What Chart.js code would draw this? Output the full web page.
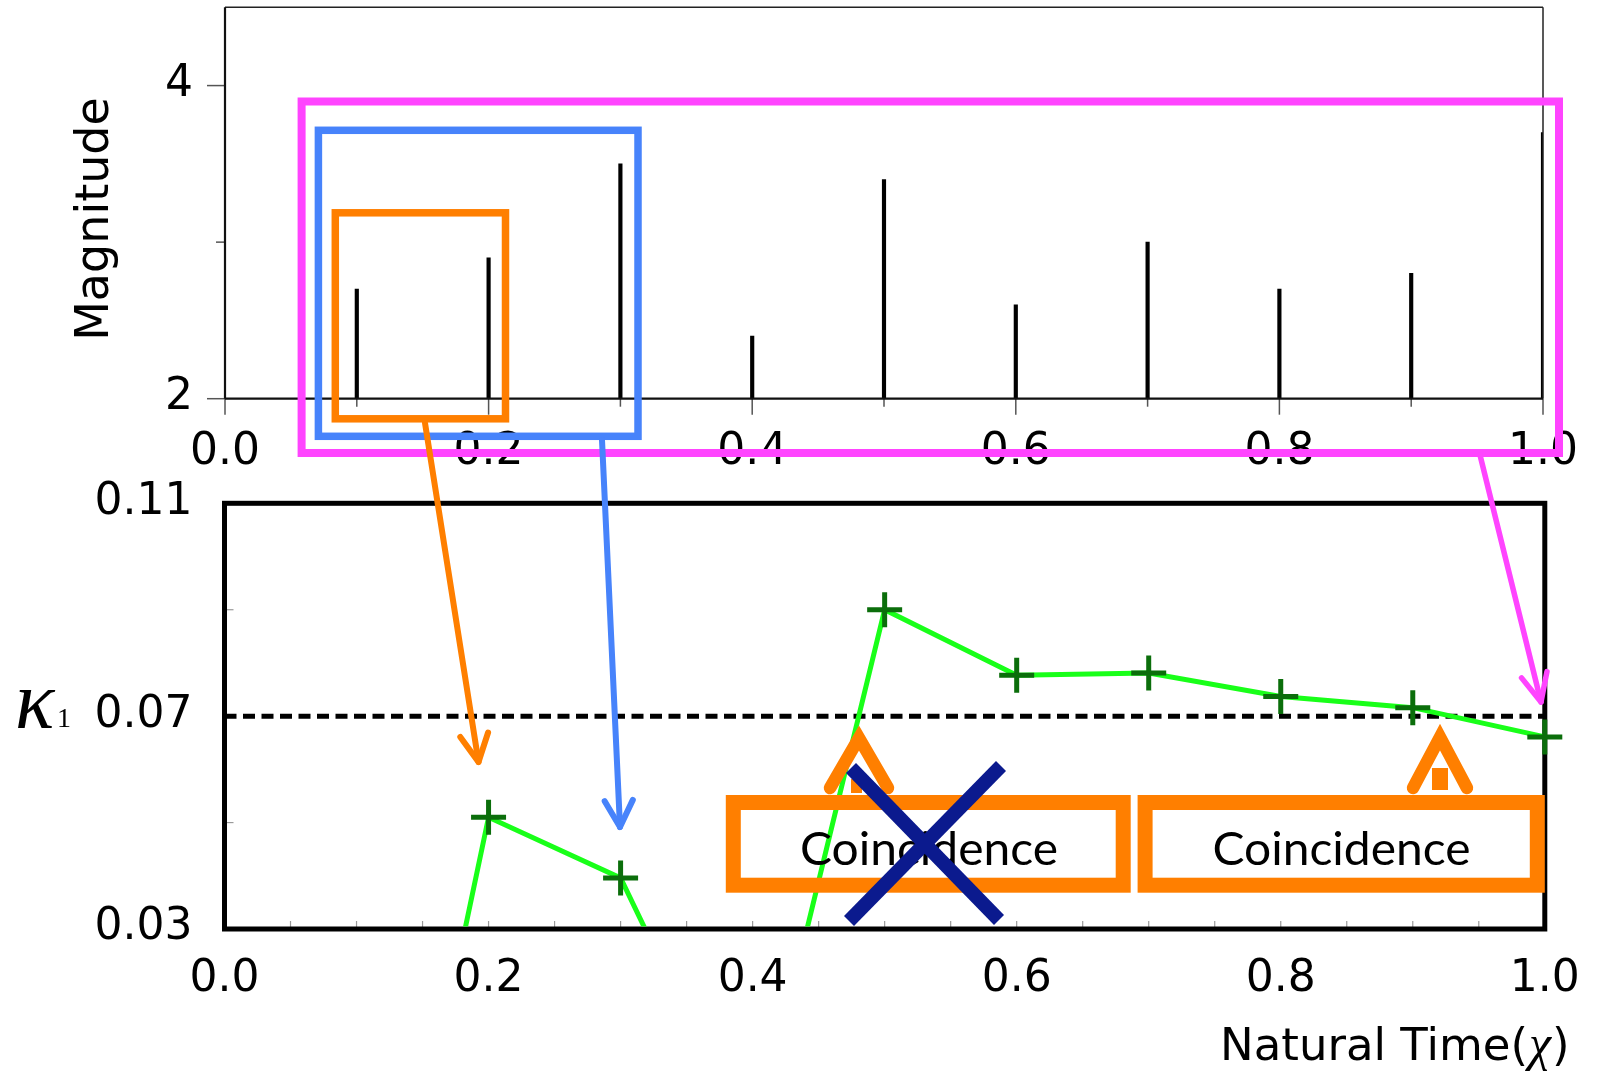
<!DOCTYPE html>
<html>
<head>
<meta charset="utf-8">
<script src="https://cdn.jsdelivr.net/npm/chart.js@4.4.1/dist/chart.umd.min.js"></script>
<style>
  html, body { margin: 0; padding: 0; background: #fff; overflow: hidden; }
  #wrap { position: relative; width: 1598px; height: 1073px; }
  #wrap canvas { position: absolute; left: 0; top: 0; }
</style>
</head>
<body>
<div id="wrap">
  <canvas id="magChart" width="1598" height="1073"></canvas>
  <canvas id="kappaChart" width="1598" height="1073"></canvas>
</div>
<script>
// ---- data -------------------------------------------------------------
// natural time of each event
const chi = [0.1, 0.2, 0.3, 0.4, 0.5, 0.6, 0.7, 0.8, 0.9, 1.0];
// magnitude of each event
const magnitude = [2.7, 2.9, 3.5, 2.4, 3.4, 2.6, 3.0, 2.7, 2.8, 3.7];
// variance kappa_1 after each event
const kappa1 = [-0.067, 0.051, 0.0396, -0.012, 0.090, 0.0777, 0.0781, 0.0737, 0.0716, 0.0661];
// critical value of kappa_1
const kappaCritical = 0.07;

// ---- ticks ------------------------------------------------------------
const magTicks = [2, 3, 4];
const magTickLabels = ['2', '', '4'];
const chiTicksTop = [0, 0.1, 0.2, 0.3, 0.4, 0.5, 0.6, 0.7, 0.8, 0.9, 1.0];
const chiLabelsTop = ['0.0', '', '0.2', '', '0.4', '', '0.6', '', '0.8', '', '1.0'];
const kappaTicks = [0.03, 0.05, 0.07, 0.09, 0.11];
const kappaTickLabels = ['0.03', '', '0.07', '', '0.11'];
const chiTicksBottom = [0, 0.05, 0.1, 0.15, 0.2, 0.25, 0.3, 0.35, 0.4, 0.45, 0.5,
                        0.55, 0.6, 0.65, 0.7, 0.75, 0.8, 0.85, 0.9, 0.95, 1.0];
const chiLabelsBottom = ['0.0', '', '', '', '0.2', '', '', '', '0.4', '', '', '', '0.6',
                         '', '', '', '0.8', '', '', '', '1.0'];

// ---- texts ------------------------------------------------------------
const magTitle = 'Magnitude';
const chiTitle = ['Natural Time(', 'χ', ')'];
const kappaTitle = ['κ', '1'];
const boxText = 'Coincidence';

Chart.defaults.font.family = "'DejaVu Sans', sans-serif";
Chart.defaults.color = '#000';

const W = 1598, H = 1073;
const SANS = "'DejaVu Sans', sans-serif";
const SERIF = "'Liberation Serif', 'DejaVu Serif', serif";

function fixedTicks(values) {
  return s => { s.ticks = values.map(v => ({ value: v })); };
}
function noPad(s) { s.paddingTop = s.paddingBottom = s.paddingLeft = s.paddingRight = 0; }

function seg(ctx, x0, y0, x1, y1) {
  ctx.beginPath(); ctx.moveTo(x0, y0); ctx.lineTo(x1, y1); ctx.stroke();
}

// ---- upper panel: magnitude stems --------------------------------------
const magFrame = {
  id: 'magFrame',
  afterDatasetsDraw(chart) {
    const { ctx, chartArea: a, scales: { x, y } } = chart;
    ctx.save();
    ctx.strokeStyle = '#555';
    ctx.lineWidth = 1.5;
    chiTicksTop.forEach((v, i) => {
      const px = x.getPixelForValue(v);
      seg(ctx, px, a.bottom, px, a.bottom + (chiLabelsTop[i] ? 16 : 8));
    });
    magTicks.forEach((v, i) => {
      const py = y.getPixelForValue(v);
      seg(ctx, a.left - (magTickLabels[i] ? 18 : 9), py, a.left, py);
    });
    ctx.strokeStyle = '#222';
    ctx.lineWidth = 1.5;
    seg(ctx, a.left, a.top, a.right, a.top);
    seg(ctx, a.right, a.top, a.right, a.bottom);
    ctx.lineWidth = 2.2;
    ctx.strokeStyle = '#111';
    seg(ctx, a.left, a.top, a.left, a.bottom);
    seg(ctx, a.left, a.bottom, a.right, a.bottom);

    // axis title
    ctx.fillStyle = '#000';
    ctx.font = '46px ' + SANS;
    ctx.textAlign = 'center';
    ctx.textBaseline = 'alphabetic';
    ctx.translate(108, 219);
    ctx.rotate(-Math.PI / 2);
    ctx.fillText(magTitle, 0, 0);
    ctx.restore();
  }
};

new Chart(document.getElementById('magChart'), {
  type: 'bar',
  data: {
    datasets: [{
      data: chi.map((x, i) => ({ x, y: magnitude[i] })),
      backgroundColor: '#000',
      borderWidth: 0,
      barThickness: 3.5,
      base: magTicks[0],
      clip: 0
    }]
  },
  options: {
    responsive: false,
    animation: false,
    devicePixelRatio: 1,
    events: [],
    layout: { padding: { left: 0, top: 7.3, right: 55, bottom: 0 } },
    plugins: { legend: { display: false }, tooltip: { enabled: false } },
    scales: {
      x: {
        type: 'linear', min: 0, max: 1, offset: false,
        grid: { display: false, drawTicks: false, tickLength: 0 },
        border: { display: false },
        afterBuildTicks: fixedTicks(chiTicksTop),
        ticks: { autoSkip: false, maxRotation: 0, padding: 27, font: { size: 44 },
                 callback: (v, i) => chiLabelsTop[i] },
        afterFit: s => { s.height = H - 398.7; noPad(s); }
      },
      y: {
        type: 'linear', min: 2, max: 4.5,
        grid: { display: false, drawTicks: false, tickLength: 0 },
        border: { display: false },
        afterBuildTicks: fixedTicks(magTicks),
        ticks: { autoSkip: false, padding: 32, labelOffset: -1, font: { size: 44 },
                 callback: (v, i) => magTickLabels[i] },
        afterFit: s => { s.width = 225; noPad(s); }
      }
    }
  },
  plugins: [magFrame]
});

// ---- lower panel: kappa_1 and annotations -----------------------------
function openArrow(ctx, x0, y0, x1, y1, color, width, head, angDeg) {
  const ang = angDeg * Math.PI / 180;
  const a = Math.atan2(y1 - y0, x1 - x0);
  ctx.strokeStyle = color;
  ctx.lineWidth = width;
  ctx.lineCap = 'round';
  ctx.lineJoin = 'round';
  seg(ctx, x0, y0, x1, y1);
  ctx.beginPath();
  ctx.moveTo(x1 - head * Math.cos(a - ang), y1 - head * Math.sin(a - ang));
  ctx.lineTo(x1, y1);
  ctx.lineTo(x1 - head * Math.cos(a + ang), y1 - head * Math.sin(a + ang));
  ctx.stroke();
}

function upChevron(ctx, vx, vy, lx, rx, ey, stem) {
  ctx.strokeStyle = '#ff7f00';
  ctx.fillStyle = '#ff7f00';
  ctx.lineWidth = 12.5;
  ctx.lineJoin = 'miter';
  ctx.miterLimit = 10;
  ctx.lineCap = 'round';
  ctx.beginPath();
  ctx.moveTo(lx, ey); ctx.lineTo(vx, vy); ctx.lineTo(rx, ey);
  ctx.stroke();
  ctx.fillRect(stem[0], stem[1], stem[2], stem[3]);
}

function labelBox(ctx, x0, y0, x1, y1, text, cx) {
  ctx.strokeStyle = '#ff7f00';
  ctx.lineWidth = 15;
  ctx.lineJoin = 'miter';
  ctx.strokeRect(x0, y0, x1 - x0, y1 - y0);
  ctx.save();
  ctx.fillStyle = '#000';
  ctx.font = '46px Lato, "Open Sans", sans-serif';
  ctx.textBaseline = 'alphabetic';
  ctx.textAlign = 'center';
  const w = ctx.measureText(text).width;
  ctx.translate(cx, 865);
  ctx.scale(258 / w, 1);
  ctx.fillText(text, 0, 0);
  ctx.restore();
}

const kappaFrame = {
  id: 'kappaFrame',
  beforeDatasetsDraw(chart) {
    const { ctx, chartArea: a, scales: { x, y } } = chart;
    ctx.save();
    ctx.strokeStyle = '#9a9a9a';
    ctx.lineWidth = 1.2;
    chiTicksBottom.forEach(v => {
      const px = x.getPixelForValue(v);
      seg(ctx, px, a.bottom, px, a.bottom - 8);
    });
    kappaTicks.forEach(v => {
      const py = y.getPixelForValue(v);
      seg(ctx, a.left, py, a.left + 9, py);
    });
    ctx.strokeStyle = '#000';
    ctx.lineWidth = 5;
    ctx.lineJoin = 'miter';
    ctx.strokeRect(a.left, a.top, a.right - a.left, a.bottom - a.top);
    ctx.restore();
  },
  afterDraw(chart) {
    const ctx = chart.ctx;
    ctx.save();

    // axis titles
    ctx.fillStyle = '#000';
    ctx.textBaseline = 'alphabetic';
    ctx.textAlign = 'left';
    ctx.font = 'italic 82px ' + SERIF;
    ctx.fillText(kappaTitle[0], 15, 728);
    ctx.font = '28px ' + SERIF;
    ctx.fillText(kappaTitle[1], 57, 727);

    let tx = 1220;
    ctx.font = '45px ' + SANS;
    ctx.fillText(chiTitle[0], tx, 1060);
    tx += ctx.measureText(chiTitle[0]).width;
    ctx.font = 'italic 50px ' + SERIF;
    ctx.fillText(chiTitle[1], tx + 1, 1060);
    tx += ctx.measureText(chiTitle[1]).width + 2;
    ctx.font = '45px ' + SANS;
    ctx.fillText(chiTitle[2], tx, 1060);

    // coincidence boxes
    labelBox(ctx, 733.3, 802.5, 1123.2, 885.2, boxText, 929);
    labelBox(ctx, 1145.1, 802.5, 1537.3, 885.2, boxText, 1341.5);

    // upward arrows onto the critical line
    upChevron(ctx, 859, 738, 830, 888, 788, [851, 779, 11, 14]);
    upChevron(ctx, 1440, 737, 1413, 1467, 788, [1432, 768, 16, 22]);

    // cross over the first box
    ctx.strokeStyle = '#0b1a8e';
    ctx.lineWidth = 14;
    ctx.lineCap = 'butt';
    seg(ctx, 851, 768, 999, 920);
    seg(ctx, 1001, 766, 849, 921);

    // windows over the magnitude series
    ctx.lineJoin = 'miter';
    ctx.lineWidth = 8;
    ctx.strokeStyle = '#ff44ff';
    ctx.strokeRect(301.6, 101.5, 1559 - 301.6, 453 - 101.5);
    ctx.lineWidth = 7.5;
    ctx.strokeStyle = '#4783fb';
    ctx.strokeRect(318.4, 130.3, 638 - 318.4, 436.3 - 130.3);
    ctx.strokeStyle = '#ff7f00';
    ctx.strokeRect(335.3, 212.8, 505.5 - 335.3, 418.8 - 212.8);

    // arrows from each window to its kappa_1 value
    openArrow(ctx, 425, 423, 478.5, 762, '#ff7f00', 6, 31, 27);
    openArrow(ctx, 602, 440, 620, 827, '#4783fb', 6, 30, 28);
    openArrow(ctx, 1480, 455, 1541, 702, '#ff44ff', 5.5, 31, 25);

    ctx.restore();
  }
};

new Chart(document.getElementById('kappaChart'), {
  type: 'line',
  data: {
    datasets: [
      {
        data: chi.map((x, i) => ({ x, y: kappa1[i] })),
        borderColor: '#19ff19',
        borderWidth: 5,
        tension: 0,
        pointStyle: 'cross',
        pointRadius: 17.5,
        pointHoverRadius: 17.5,
        pointBorderColor: '#0b6e0b',
        pointBorderWidth: 5,
        clip: { left: 40, top: 40, right: 40, bottom: -2.5 }
      },
      {
        data: [{ x: 0, y: kappaCritical }, { x: 1, y: kappaCritical }],
        borderColor: '#000',
        borderWidth: 5,
        borderDash: [12, 6.5],
        pointRadius: 0,
        pointHoverRadius: 0
      }
    ]
  },
  options: {
    responsive: false,
    animation: false,
    devicePixelRatio: 1,
    events: [],
    layout: { padding: { left: 0, top: 503.3, right: 53.2, bottom: 0 } },
    plugins: { legend: { display: false }, tooltip: { enabled: false } },
    scales: {
      x: {
        type: 'linear', min: 0, max: 1,
        grid: { display: false, drawTicks: false, tickLength: 0 },
        border: { display: false },
        afterBuildTicks: fixedTicks(chiTicksBottom),
        ticks: { autoSkip: false, maxRotation: 0, padding: 24.6, font: { size: 44 },
                 callback: (v, i) => chiLabelsBottom[i] },
        afterFit: s => { s.height = H - 929; noPad(s); }
      },
      y: {
        type: 'linear', min: 0.03, max: 0.11,
        grid: { display: false, drawTicks: false, tickLength: 0 },
        border: { display: false },
        afterBuildTicks: fixedTicks(kappaTicks),
        ticks: { autoSkip: false, padding: 32, labelOffset: -1, font: { size: 44 },
                 callback: (v, i) => kappaTickLabels[i] },
        afterFit: s => { s.width = 224.5; noPad(s); }
      }
    }
  },
  plugins: [kappaFrame]
});
</script>
</body>
</html>
